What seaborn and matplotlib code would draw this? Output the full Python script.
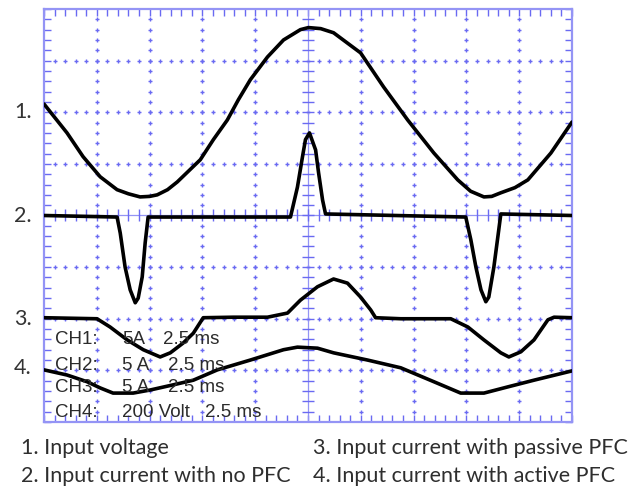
import numpy as np
import pandas as pd
import matplotlib
matplotlib.use("Agg")
import matplotlib.pyplot as plt
import seaborn as sns

# time axis in ms (2.5 ms / division, 10 divisions); vertical in screen divisions (0..8)
t_voltage = [0.0, 1.09, 1.85, 2.66, 3.46, 4.0, 4.55, 5.0, 5.36, 5.85, 6.31, 7.40, 8.02, 8.68,
             9.20, 9.77, 10.58, 11.34, 12.14, 12.52, 13.1, 13.71, 14.99, 16.08, 17.22, 18.46,
             19.59, 20.2, 20.83, 21.2, 21.63, 22.3, 22.91, 24.00, 25.0]
v_voltage = [6.16, 5.60, 5.14, 4.75, 4.50, 4.42, 4.36, 4.37, 4.40, 4.50, 4.65, 5.08, 5.47, 5.85,
             6.24, 6.63, 7.07, 7.40, 7.60, 7.64, 7.62, 7.54, 7.15, 6.49, 5.85, 5.21,
             4.69, 4.47, 4.36, 4.37, 4.44, 4.54, 4.69, 5.21, 5.81]

t_no_pfc = [0.0, 3.46, 3.61, 3.84, 4.08, 4.32, 4.46, 4.65, 4.79, 4.93, 11.67, 12.00, 12.24,
            12.38, 12.57, 12.86, 13.00, 13.19, 13.33, 19.97, 20.21, 20.45, 20.69, 20.92,
            21.06, 21.30, 21.49, 21.63, 25.0]
i_no_pfc = [4.0, 3.97, 3.66, 3.00, 2.56, 2.31, 2.40, 2.81, 3.47, 3.97, 3.97, 4.55, 5.14,
            5.47, 5.60, 5.27, 4.83, 4.30, 4.03, 3.97, 3.53, 3.00, 2.56, 2.33,
            2.42, 3.00, 3.59, 4.03, 4.0]

t_passive = [0.0, 2.51, 3.13, 3.94, 4.70, 5.50, 5.98, 6.59, 7.07, 7.54, 8.97, 10.58, 11.53,
             12.14, 12.95, 13.71, 14.37, 14.99, 15.47, 15.70, 16.89, 19.26, 20.07, 20.83,
             21.63, 22.01, 22.58, 23.20, 23.86, 24.15, 25.0]
i_passive = [2.02, 2.00, 1.84, 1.59, 1.40, 1.26, 1.34, 1.53, 1.72, 2.02, 2.03, 2.03, 2.11,
             2.36, 2.62, 2.77, 2.69, 2.42, 2.17, 2.02, 2.00, 2.00, 1.84, 1.59,
             1.34, 1.26, 1.36, 1.59, 1.98, 2.03, 2.02]

t_active = [0.0, 1.09, 2.04, 2.66, 3.27, 4.22, 5.03, 6.12, 7.07, 8.21, 9.77, 11.34, 12.00,
            12.95, 13.71, 15.32, 16.89, 18.46, 19.73, 20.83, 21.96, 23.20, 25.0]
i_active = [1.01, 0.91, 0.78, 0.66, 0.56, 0.56, 0.62, 0.72, 0.81, 1.01, 1.20, 1.40, 1.45,
            1.43, 1.34, 1.20, 1.05, 0.78, 0.56, 0.56, 0.68, 0.81, 0.99]

trace_labels = ["1.", "2.", "3.", "4."]
trace_label_levels = [6.0, 4.0, 2.0, 1.05]
legend_left = ["1. Input voltage", "2. Input current with no PFC"]
legend_right = ["3. Input current with passive PFC", "4. Input current with active PFC"]
ch_names = ["CH1:", "CH2:", "CH3:", "CH4:"]
ch_scale = ["5A", "5 A", "5 A", "200 Volt"]
ch_time = ["2.5 ms", "2.5 ms", "2.5 ms", "2.5 ms"]

sns.set_theme(style="white")
plt.rcParams['font.family'] = ['Liberation Sans', 'DejaVu Sans']

W, H = 633, 490
fig = plt.figure(figsize=(W / 100, H / 100), dpi=100)
fig.patch.set_facecolor("white")
ax = fig.add_axes([44 / W, 1 - 422 / H, 528 / W, 413 / H])
ax.set_facecolor("white")

grid_blue = "#6a6af2"
edge_blue = "#9494f5"

ax.set_xlim(0, 25)
ax.set_ylim(0, 8)

# dotted graticule
xs_minor = np.arange(0.5, 25, 0.5)
ys_minor = np.arange(0.2, 8, 0.2)
for xv in [2.5, 5, 7.5, 10, 15, 17.5, 20, 22.5]:
    ax.plot(np.full_like(ys_minor, xv), ys_minor, ls="none", marker="+", ms=3.5,
            mew=1.0, color=grid_blue, zorder=1)
for yv in [1, 2, 3, 5, 6, 7]:
    ax.plot(xs_minor, np.full_like(xs_minor, yv), ls="none", marker="+", ms=3.5,
            mew=1.0, color=grid_blue, zorder=1)
# centre cross with ticks
ax.axvline(12.5, color=edge_blue, lw=0.9, zorder=1)
ax.axhline(4.0, color=edge_blue, lw=0.9, zorder=1)
ax.plot(np.full_like(ys_minor, 12.5), ys_minor, ls="none", marker="_", ms=8,
        mew=1.0, color=grid_blue, zorder=1)
ax.plot(xs_minor, np.full_like(xs_minor, 4.0), ls="none", marker="|", ms=8,
        mew=1.0, color=grid_blue, zorder=1)

# border ticks
ax.set_xticks(np.arange(0, 25.01, 0.5))
ax.set_yticks(np.arange(0, 8.01, 0.2))
ax.set_xticklabels([])
ax.set_yticklabels([])
ax.tick_params(axis="both", which="both", direction="in", length=5, width=1.0,
               color=grid_blue, top=True, right=True, bottom=True, left=True)
for s in ax.spines.values():
    s.set_color(edge_blue)
    s.set_linewidth(1.6)

# traces
traces = [(t_voltage, v_voltage), (t_no_pfc, i_no_pfc), (t_passive, i_passive), (t_active, i_active)]
for tx, ty in traces:
    df = pd.DataFrame({"t": tx, "y": ty})
    sns.lineplot(data=df, x="t", y="y", ax=ax, color="black", lw=2.6,
                 estimator=None, sort=False, zorder=3)
ax.set_xlabel("")
ax.set_ylabel("")

# channel settings text
ch_y = [1.59, 1.10, 0.66, 0.19]
col2_x = [3.70, 3.70, 3.70, 3.70]
col3_x = [5.65, 5.88, 5.88, 7.64]
for i in range(4):
    ax.text(0.52, ch_y[i], ch_names[i], fontsize=13.5, color="#2b2b2b", va="center",
            ha="left", zorder=4)
    ax.text(col2_x[i], ch_y[i], ch_scale[i], fontsize=13.5, color="#2b2b2b", va="center",
            ha="left", zorder=4)
    ax.text(col3_x[i], ch_y[i], ch_time[i], fontsize=13.5, color="#2b2b2b", va="center",
            ha="left", zorder=4)

# trace number labels outside the screen
for lab, lev in zip(trace_labels, trace_label_levels):
    ax.text(-30 / 52.7 * 2.5, lev, lab, fontsize=15.5, color="#333333", va="center",
            ha="left", family=["Lato", "DejaVu Sans"], clip_on=False)

# caption
for i, s in enumerate(legend_left):
    fig.text(21 / W, 1 - (448 + 28 * i) / H, s, fontsize=15.5, color="#2e2e2e",
             va="center", ha="left", family=["Lato", "DejaVu Sans"])
for i, s in enumerate(legend_right):
    fig.text(313 / W, 1 - (448 + 28 * i) / H, s, fontsize=15.5, color="#2e2e2e",
             va="center", ha="left", family=["Lato", "DejaVu Sans"])

fig.savefig("out.png", dpi=100)
